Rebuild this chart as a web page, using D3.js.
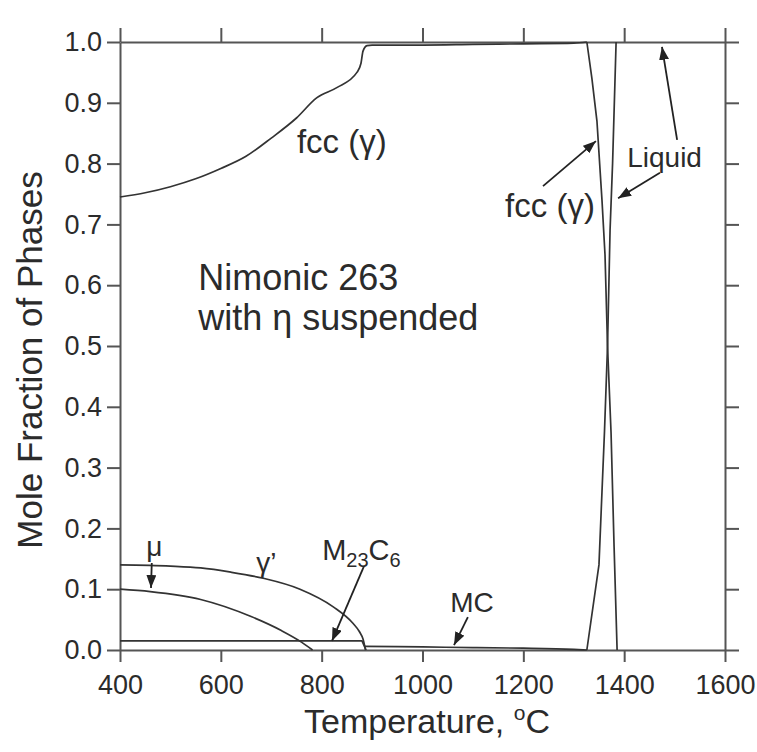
<!DOCTYPE html>
<html>
<head>
<meta charset="utf-8">
<script src="https://cdn.jsdelivr.net/npm/d3@7"></script>
<style>
body { margin: 0; background: #fff; }
svg { display: block; }
text { font-family: "Liberation Sans", Arial, sans-serif; fill: #2b2b2b; }
</style>
</head>
<body>
<svg width="757" height="752"></svg>
<script>
// tick values
var xTicks = [400, 600, 800, 1000, 1200, 1400, 1600];
var yTicks = [0, 0.1, 0.2, 0.3, 0.4, 0.5, 0.6, 0.7, 0.8, 0.9, 1.0];

// fcc (gamma) matrix, low temperature part up to the solidus
var fccT = [400, 450, 500, 550, 600, 650, 700, 750, 790, 830, 870, 878, 882, 890, 900, 1000, 1100, 1200, 1300, 1326];
var fccV = [0.745, 0.752, 0.762, 0.775, 0.792, 0.812, 0.842, 0.875, 0.908, 0.925, 0.950, 0.965, 0.985, 0.994, 0.995, 0.995, 0.996, 0.997, 0.998, 1.0];

// fcc (gamma) through the melting range
var fccMeltT = [1326, 1336, 1346, 1356, 1362, 1367, 1374, 1380, 1386];
var fccMeltV = [1.0, 0.94, 0.87, 0.74, 0.65, 0.5, 0.357, 0.17, 0.0];

// liquid
var liqT = [1326, 1350, 1361, 1367, 1372, 1377, 1384];
var liqV = [0.0, 0.14, 0.36, 0.5, 0.69, 0.8, 1.0];

// mu
var muT = [400, 460, 560, 660, 720, 760, 782];
var muV = [0.100, 0.096, 0.083, 0.055, 0.032, 0.013, 0.0];

// gamma prime
var gpT = [400, 500, 560, 620, 684, 757, 823, 862, 875, 882, 887];
var gpV = [0.140, 0.138, 0.135, 0.128, 0.118, 0.100, 0.071, 0.044, 0.030, 0.018, 0.0];

// M23C6
var m23T = [400, 600, 800, 880, 888];
var m23V = [0.015, 0.015, 0.015, 0.015, 0.0];

// MC
var mcT = [885, 1000, 1100, 1200, 1300, 1326];
var mcV = [0.006, 0.005, 0.004, 0.003, 0.001, 0.0];

var svg = d3.select("svg");
var x = d3.scaleLinear().domain([400, 1600]).range([120, 725]);
var y = d3.scaleLinear().domain([0, 1]).range([650, 42]);

var ink = "#333";

svg.append("defs").append("marker")
    .attr("id", "head")
    .attr("markerUnits", "userSpaceOnUse")
    .attr("markerWidth", 13)
    .attr("markerHeight", 10)
    .attr("refX", 13)
    .attr("refY", 5)
    .attr("orient", "auto")
    .append("path")
    .attr("d", "M0,0L13,5L0,10Z")
    .attr("fill", "#222");

function styleAxis(g) {
    g.select(".domain").attr("stroke", "#555").attr("stroke-width", 2);
    g.selectAll(".tick line").attr("stroke", "#555").attr("stroke-width", 2);
    g.selectAll(".tick text").attr("font-size", 27).attr("fill", "#2b2b2b")
        .attr("font-family", "Liberation Sans, Arial, sans-serif");
}

svg.append("g").attr("transform", "translate(0,650)")
    .call(d3.axisBottom(x).tickValues(xTicks).tickSize(12).tickSizeOuter(0).tickPadding(13).tickFormat(d3.format("d")))
    .call(styleAxis);
svg.append("g").attr("transform", "translate(0,42)")
    .call(d3.axisTop(x).tickValues(xTicks).tickSize(14).tickSizeOuter(0).tickFormat(""))
    .call(styleAxis);
svg.append("g").attr("transform", "translate(120,0)")
    .call(d3.axisLeft(y).tickValues(yTicks).tickSize(13).tickSizeOuter(0).tickPadding(5).tickFormat(d3.format(".1f")))
    .call(styleAxis);
svg.append("g").attr("transform", "translate(725,0)")
    .call(d3.axisRight(y).tickValues(yTicks).tickSize(14).tickSizeOuter(0).tickFormat(""))
    .call(styleAxis);

// curves
var smooth = d3.line().x(d => x(d[0])).y(d => y(d[1])).curve(d3.curveMonotoneX);
var straight = d3.line().x(d => x(d[0])).y(d => y(d[1]));

var curves = [
    [fccT, fccV, smooth],
    [fccMeltT, fccMeltV, straight],
    [liqT, liqV, straight],
    [muT, muV, smooth],
    [gpT, gpV, smooth],
    [m23T, m23V, straight],
    [mcT, mcV, smooth]
];
curves.forEach(c => {
    svg.append("path")
        .datum(c[0].map((t, i) => [t, c[1][i]]))
        .attr("d", c[2])
        .attr("fill", "none")
        .attr("stroke", ink)
        .attr("stroke-width", 1.7)
        .attr("stroke-linejoin", "round");
});

// labels
function label(t, v, str, size, anchor) {
    return svg.append("text")
        .attr("x", x(t)).attr("y", y(v))
        .attr("font-size", size)
        .attr("text-anchor", anchor || "start")
        .text(str);
}
label(751, 0.817, "fcc (\u03b3)", 33);
label(555, 0.592, "Nimonic 263", 36);
label(555, 0.526, "with \u03b7 suspended", 36);
label(1342, 0.712, "fcc (\u03b3)", 33, "end");
label(1406, 0.794, "Liquid", 28);
label(452, 0.155, "\u03bc", 28);
label(670, 0.128, "\u03b3\u2019", 28);
label(1055, 0.0625, "MC", 28);

var m23 = svg.append("text").attr("x", x(801)).attr("y", y(0.148)).attr("font-size", 29);
m23.append("tspan").text("M");
m23.append("tspan").attr("dy", 7).attr("font-size", 20).text("23");
m23.append("tspan").attr("dy", -7).text("C");
m23.append("tspan").attr("dy", 7).attr("font-size", 20).text("6");

// arrows
var arrows = [
    [1239, 0.763, 1344, 0.837],
    [1471, 0.785, 1388, 0.743],
    [1505, 0.839, 1475, 0.992],
    [463, 0.143, 461.5, 0.102],
    [884, 0.138, 820.5, 0.015],
    [1090, 0.054, 1062.5, 0.008]
];
svg.selectAll("line.arrow").data(arrows).enter().append("line")
    .attr("class", "arrow")
    .attr("x1", d => x(d[0])).attr("y1", d => y(d[1]))
    .attr("x2", d => x(d[2])).attr("y2", d => y(d[3]))
    .attr("stroke", "#222").attr("stroke-width", 1.8)
    .attr("marker-end", "url(#head)");

// axis titles
svg.append("text")
    .attr("transform", "translate(42,360) rotate(-90)")
    .attr("text-anchor", "middle")
    .attr("font-size", 35)
    .text("Mole Fraction of Phases");

var xt = svg.append("text")
    .attr("x", 427).attr("y", 733)
    .attr("text-anchor", "middle")
    .attr("font-size", 34);
xt.append("tspan").text("Temperature, ");
xt.append("tspan").attr("dy", -13).attr("font-size", 21).text("o");
xt.append("tspan").attr("dy", 13).text("C");
</script>
</body>
</html>
